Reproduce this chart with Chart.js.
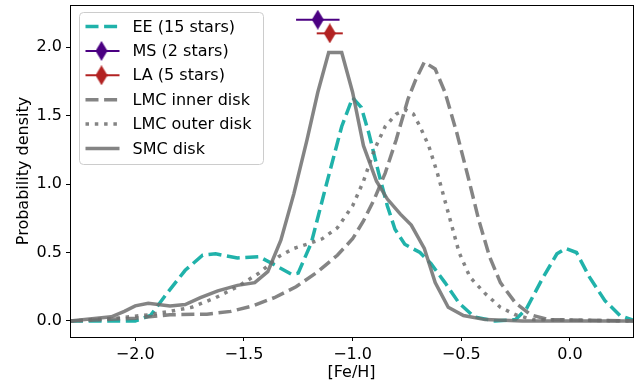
<!DOCTYPE html>
<html>
<head>
<meta charset="utf-8">
<style>
  html, body { margin: 0; padding: 0; background: #fff; }
  #canvas { display: block; }
</style>
<script src="https://cdn.jsdelivr.net/npm/chart.js@4.4.0/dist/chart.umd.min.js"></script>
</head>
<body>
<canvas id="canvas" width="641" height="386"></canvas>
<script>
// metallicity distributions, [Fe/H] grid and density per sample
const eeFeH = [-2.3, -2.0, -1.93, -1.855, -1.77, -1.69, -1.63, -1.53, -1.43, -1.36, -1.28, -1.25, -1.19, -1.12, -1.05, -1.0, -0.96, -0.925, -0.88, -0.84, -0.805, -0.76, -0.69, -0.64, -0.575, -0.51, -0.44, -0.345, -0.25, -0.2, -0.13, -0.06, -0.02, 0.03, 0.09, 0.16, 0.23, 0.3];
const eeDensity = [0, 0, 0.04, 0.2, 0.37, 0.48, 0.49, 0.46, 0.47, 0.41, 0.34, 0.35, 0.57, 1.0, 1.42, 1.63, 1.56, 1.37, 1.08, 0.84, 0.67, 0.56, 0.5, 0.42, 0.28, 0.13, 0.03, 0, 0.01, 0.09, 0.3, 0.49, 0.53, 0.5, 0.32, 0.15, 0.04, 0];

const smcFeH = [-2.3, -2.11, -2.05, -2.0, -1.94, -1.84, -1.77, -1.7, -1.62, -1.53, -1.45, -1.39, -1.33, -1.27, -1.21, -1.16, -1.11, -1.05, -1.0, -0.95, -0.89, -0.84, -0.78, -0.73, -0.67, -0.62, -0.56, -0.49, -0.39, -0.22, 0.3];
const smcDensity = [0, 0.03, 0.07, 0.11, 0.13, 0.11, 0.12, 0.17, 0.22, 0.26, 0.28, 0.36, 0.59, 0.93, 1.32, 1.67, 1.96, 1.96, 1.67, 1.28, 1.02, 0.89, 0.78, 0.7, 0.53, 0.28, 0.1, 0.04, 0.01, 0, 0];

const lmcInnerFeH = [-2.3, -2.0, -1.84, -1.67, -1.56, -1.46, -1.36, -1.26, -1.16, -1.07, -1.0, -0.95, -0.9, -0.85, -0.8, -0.745, -0.71, -0.67, -0.62, -0.575, -0.52, -0.47, -0.42, -0.37, -0.32, -0.25, -0.18, -0.1, 0.3];
const lmcInnerDensity = [0, 0.02, 0.045, 0.05, 0.07, 0.11, 0.17, 0.25, 0.36, 0.48, 0.6, 0.73, 0.89, 1.08, 1.32, 1.62, 1.76, 1.89, 1.84, 1.67, 1.37, 1.06, 0.74, 0.47, 0.28, 0.13, 0.045, 0.01, 0];

const lmcOuterFeH = [-2.3, -2.09, -1.94, -1.84, -1.74, -1.63, -1.53, -1.43, -1.34, -1.27, -1.21, -1.14, -1.07, -1.0, -0.95, -0.9, -0.85, -0.8, -0.755, -0.72, -0.69, -0.65, -0.61, -0.56, -0.51, -0.46, -0.39, -0.32, -0.25, -0.17, 0.3];
const lmcOuterDensity = [0, 0.02, 0.045, 0.07, 0.1, 0.17, 0.25, 0.35, 0.47, 0.53, 0.56, 0.6, 0.68, 0.84, 1.02, 1.25, 1.42, 1.51, 1.54, 1.51, 1.42, 1.28, 1.08, 0.79, 0.5, 0.32, 0.2, 0.1, 0.045, 0.01, 0];

// mean [Fe/H] of the small groups, with their spread
const msMean = -1.16, msErr = 0.10, msLevel = 2.2;
const laMean = -1.105, laErr = 0.06, laLevel = 2.1;

const xTicks = [-2.0, -1.5, -1.0, -0.5, 0.0];
const yTicks = [0.0, 0.5, 1.0, 1.5, 2.0];

const TEAL = '#20b2aa';
const INDIGO = '#4b0082';
const FIREBRICK = '#b22222';
const GREY = 'rgba(110,110,110,0.85)';
const FONT = 'DejaVu Sans';
const LW = 3.5;

function pairs(xs, ys) {
    return xs.map((x, i) => ({ x: x, y: ys[i] }));
}

function diamond(color) {
    const c = document.createElement('canvas');
    c.width = 12;
    c.height = 20;
    const g = c.getContext('2d');
    g.fillStyle = color;
    g.beginPath();
    g.moveTo(6, 0);
    g.lineTo(12, 10);
    g.lineTo(6, 20);
    g.lineTo(0, 10);
    g.closePath();
    g.fill();
    return c;
}

function curve(label, xs, ys, color, dash, order) {
    return {
        label: label,
        data: pairs(xs, ys),
        borderColor: color,
        borderWidth: LW,
        borderDash: dash,
        borderCapStyle: 'butt',
        pointRadius: 0,
        showLine: true,
        tension: 0,
        order: order
    };
}

function errorBar(label, mean, err, level, color) {
    return {
        label: label,
        data: [{ x: mean - err, y: level }, { x: mean + err, y: level }],
        borderColor: color,
        borderWidth: 2,
        pointRadius: 0,
        showLine: true,
        order: 1
    };
}

function marker(label, mean, level, color) {
    return {
        label: label,
        data: [{ x: mean, y: level }],
        pointStyle: diamond(color),
        showLine: false,
        order: 0
    };
}

const dashed = [13, 5.6];
const dotted = [3.5, 5.8];

// legend rows: what each sample line looks like
const legendRows = [
    { text: 'EE (15 stars)', color: TEAL, dash: dashed, width: LW },
    { text: 'MS (2 stars)', color: INDIGO, dash: [], width: 2, marker: diamond(INDIGO) },
    { text: 'LA (5 stars)', color: FIREBRICK, dash: [], width: 2, marker: diamond(FIREBRICK) },
    { text: 'LMC inner disk', color: GREY, dash: dashed, width: LW },
    { text: 'LMC outer disk', color: GREY, dash: dotted, width: LW },
    { text: 'SMC disk', color: GREY, dash: [], width: LW }
];

const boxLegend = {
    id: 'boxLegend',
    afterDatasetsDraw(chart) {
        const ctx = chart.ctx;
        const a = chart.chartArea;
        const x0 = a.left + 9.5, y0 = a.top + 7.5, w = 184, h = 152, r = 4;
        ctx.save();
        ctx.beginPath();
        ctx.moveTo(x0 + r, y0);
        ctx.arcTo(x0 + w, y0, x0 + w, y0 + h, r);
        ctx.arcTo(x0 + w, y0 + h, x0, y0 + h, r);
        ctx.arcTo(x0, y0 + h, x0, y0, r);
        ctx.arcTo(x0, y0, x0 + w, y0, r);
        ctx.closePath();
        ctx.fillStyle = 'rgba(255,255,255,0.8)';
        ctx.fill();
        ctx.strokeStyle = '#cccccc';
        ctx.lineWidth = 1;
        ctx.stroke();

        ctx.font = '16px "' + FONT + '"';
        ctx.textBaseline = 'middle';
        ctx.textAlign = 'left';
        legendRows.forEach((row, i) => {
            const cy = y0 + 14 + i * 24.4;
            ctx.beginPath();
            ctx.setLineDash(row.dash);
            ctx.lineCap = 'butt';
            ctx.strokeStyle = row.color;
            ctx.lineWidth = row.width;
            ctx.moveTo(x0 + 6, cy);
            ctx.lineTo(x0 + 40, cy);
            ctx.stroke();
            ctx.setLineDash([]);
            if (row.marker) {
                ctx.drawImage(row.marker, x0 + 22 - 6, cy - 10);
            }
            ctx.fillStyle = '#000';
            ctx.fillText(row.text, x0 + 53, cy + 1);
        });
        ctx.restore();
    },
    afterDraw(chart) {
        const ctx = chart.ctx;
        const a = chart.chartArea;
        ctx.save();
        ctx.strokeStyle = '#000';
        ctx.lineWidth = 1;
        ctx.strokeRect(a.left + 0.5, a.top + 0.5, a.right - a.left, a.bottom - a.top);
        ctx.restore();
    }
};

function minusSign(v) {
    return v.toFixed(1).replace('-', '\u2212');
}

// keep the plot frame where the layout padding puts it
function noLabelPadding(scale) {
    scale.paddingTop = 0;
    scale.paddingBottom = 0;
    scale.paddingLeft = 0;
    scale.paddingRight = 0;
}

const ctx = document.getElementById('canvas').getContext('2d');
new Chart(ctx, {
    type: 'scatter',
    data: {
        datasets: [
            curve('EE (15 stars)', eeFeH, eeDensity, TEAL, dashed, 3),
            errorBar('MS (2 stars)', msMean, msErr, msLevel, INDIGO),
            marker('MS (2 stars)', msMean, msLevel, INDIGO),
            errorBar('LA (5 stars)', laMean, laErr, laLevel, FIREBRICK),
            marker('LA (5 stars)', laMean, laLevel, FIREBRICK),
            curve('LMC inner disk', lmcInnerFeH, lmcInnerDensity, GREY, dashed, 2),
            curve('LMC outer disk', lmcOuterFeH, lmcOuterDensity, GREY, dotted, 2),
            curve('SMC disk', smcFeH, smcDensity, GREY, [], 2)
        ]
    },
    options: {
        responsive: false,
        animation: false,
        layout: { padding: { top: 5, right: 8, left: 0, bottom: 0 } },
        plugins: {
            legend: { display: false },
            tooltip: { enabled: false }
        },
        scales: {
            x: {
                type: 'linear',
                min: -2.3,
                max: 0.29,
                afterBuildTicks: (scale) => { scale.ticks = xTicks.map(v => ({ value: v })); },
                afterFit: (scale) => { scale.height = 49; noLabelPadding(scale); },
                border: { display: false },
                grid: { drawOnChartArea: false, tickLength: 4, color: '#000' },
                ticks: {
                    color: '#000',
                    padding: 4,
                    maxRotation: 0,
                    font: { family: FONT, size: 16 },
                    callback: (v) => minusSign(v)
                },
                title: {
                    display: true,
                    text: '[Fe/H]',
                    color: '#000',
                    font: { family: FONT, size: 16 },
                    padding: { top: 0, bottom: 4 }
                }
            },
            y: {
                type: 'linear',
                min: -0.117,
                max: 2.307,
                afterBuildTicks: (scale) => { scale.ticks = yTicks.map(v => ({ value: v })); },
                afterFit: (scale) => { scale.width = 70; noLabelPadding(scale); },
                border: { display: false },
                grid: { drawOnChartArea: false, tickLength: 4, color: '#000' },
                ticks: {
                    color: '#000',
                    padding: 4,
                    font: { family: FONT, size: 16 },
                    callback: (v) => minusSign(v)
                },
                title: {
                    display: true,
                    text: 'Probability density',
                    color: '#000',
                    font: { family: FONT, size: 16 },
                    padding: { top: 14, bottom: 0 }
                }
            }
        }
    },
    plugins: [boxLegend]
});
</script>
</body>
</html>
